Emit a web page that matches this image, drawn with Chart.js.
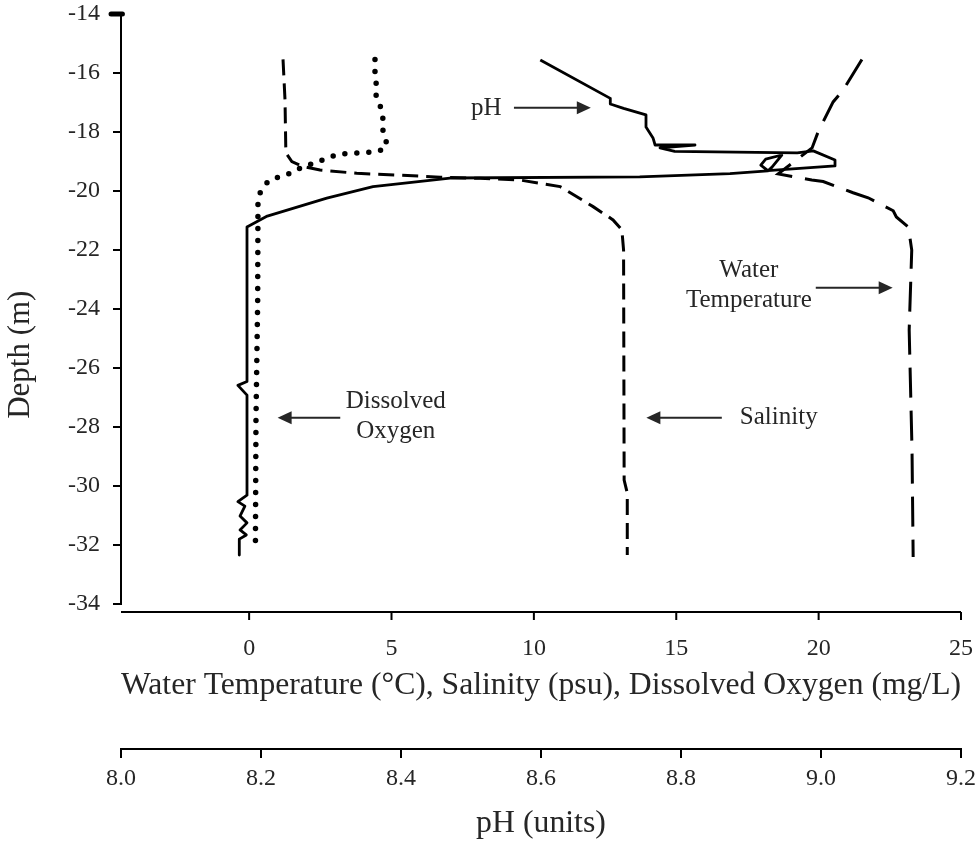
<!DOCTYPE html>
<html>
<head>
<meta charset="utf-8">
<script src="https://cdn.jsdelivr.net/npm/chart.js@4.4.1/dist/chart.umd.min.js"></script>
<style>
  html, body { margin: 0; padding: 0; background: #fff; }
  #wrap { width: 980px; height: 843px; position: relative; }
</style>
</head>
<body>
<div id="wrap"><canvas id="perfil"></canvas></div>
<script>
// profile readings, top to bottom (depth in m)
const oxyDepth = [-15.54, -15.96, -16.34, -16.78, -17.19, -17.56, -18.0, -18.41, -18.58, -18.68, -18.70, -18.72, -18.75, -18.88, -19.04, -19.17, -19.38, -19.51, -19.66, -20.07, -20.44, -23.69, -27.76, -32.24];
const oxyValue = [4.42, 4.42, 4.46, 4.46, 4.63, 4.70, 4.70, 4.84, 4.74, 4.42, 4.0, 3.61, 3.16, 2.74, 2.35, 1.89, 1.51, 1.09, 0.67, 0.38, 0.31, 0.30, 0.24, 0.22];

const salDepth = [-15.54, -16.92, -18.71, -19.0, -19.17, -19.29, -19.40, -19.46, -19.53, -19.57, -19.63, -19.85, -20.53, -20.98, -21.32, -22.0, -29.8, -30.24, -32.34];
const salValue = [1.19, 1.26, 1.29, 1.50, 1.89, 2.49, 3.78, 5.18, 6.71, 8.11, 9.52, 10.92, 12.08, 12.78, 13.09, 13.15, 13.17, 13.28, 13.28];

const tempDepth = [-15.54, -16.58, -16.98, -18.0, -18.54, -19.42, -19.63, -19.68, -20.06, -20.23, -20.67, -20.88, -21.22, -22.0, -24.71, -28.78, -32.41];
const tempValue = [21.52, 20.86, 20.51, 19.98, 19.77, 18.58, 19.76, 20.16, 21.21, 21.74, 22.62, 22.73, 23.15, 23.27, 23.18, 23.28, 23.32];

const phDepth = [-15.56, -16.86, -17.05, -17.20, -17.42, -17.83, -18.20, -18.44, -18.44, -18.54, -18.66, -18.71, -18.64, -18.95, -19.15, -19.31, -19.12, -18.92, -18.78, -19.19, -19.32, -19.41, -19.52, -19.56, -19.85, -20.24, -20.85, -21.22, -26.46, -26.59, -26.92, -30.31, -30.53, -30.68, -31.02, -31.25, -31.49, -31.66, -31.80, -32.34];
const phValue = [8.599, 8.699, 8.699, 8.718, 8.750, 8.750, 8.760, 8.763, 8.820, 8.770, 8.791, 8.966, 8.989, 9.020, 9.020, 8.924, 8.914, 8.921, 8.944, 8.930, 8.924, 8.870, 8.741, 8.470, 8.360, 8.294, 8.209, 8.180, 8.180, 8.167, 8.180, 8.180, 8.167, 8.177, 8.170, 8.180, 8.170, 8.179, 8.169, 8.169];

// short surface mark at the top of the depth axis
const surfDepth = [-14, -14];
const surfValue = [-4.85, -4.45];

const depthTicks = [-34, -32, -30, -28, -26, -24, -22, -20, -18, -16, -14];
const tempTicks = [0, 5, 10, 15, 20, 25];
const phTicks = [8.0, 8.2, 8.4, 8.6, 8.8, 9.0, 9.2];

const fuente = '"Liberation Serif", "Times New Roman", serif';
const tinta = '#262626';

const pares = (xs, ys) => xs.map((v, i) => ({ x: v, y: ys[i] }));

// labels with arrows, placed in data units of the x / y scales
const notas = [
  { text: ['pH'], x: 8.33, y: -17.2, from: 9.3, to: 12.0, ay: -17.18 },
  { text: ['Water', 'Temperature'], x: 17.55, y: -22.68, from: 19.9, to: 22.6, ay: -23.28 },
  { text: ['Salinity'], x: 18.6, y: -27.69, from: 16.6, to: 13.95, ay: -27.69 },
  { text: ['Dissolved', 'Oxygen'], x: 5.15, y: -27.15, from: 3.2, to: 1.0, ay: -27.69 }
];

// drop the extra room chart.js keeps for half labels at the ends of an axis
const sinBordes = s => {
  s.paddingTop = 0;
  s.paddingBottom = 0;
  s.paddingLeft = 0;
  s.paddingRight = 0;
};

const extras = {
  id: 'extras',
  afterDraw(chart) {
    const { ctx, scales: { x, y } } = chart;
    ctx.save();
    // temperature axis sits a few pixels under the plot
    const base = chart.chartArea.bottom + 8;
    ctx.strokeStyle = '#000';
    ctx.lineWidth = 2;
    ctx.beginPath();
    ctx.moveTo(x.left, base);
    ctx.lineTo(x.right, base);
    tempTicks.forEach(v => {
      const px = x.getPixelForValue(v);
      ctx.moveTo(px, base);
      ctx.lineTo(px, base + 8);
    });
    ctx.stroke();

    // depth title, lower than the middle of the axis like the original
    ctx.save();
    ctx.translate(21, y.getPixelForValue(-25.55));
    ctx.rotate(-Math.PI / 2);
    ctx.font = '31px ' + fuente;
    ctx.fillStyle = tinta;
    ctx.textAlign = 'center';
    ctx.textBaseline = 'middle';
    ctx.fillText('Depth (m)', 0, 0);
    ctx.restore();

    ctx.font = '25px ' + fuente;
    ctx.fillStyle = tinta;
    ctx.strokeStyle = tinta;
    ctx.textAlign = 'center';
    ctx.textBaseline = 'middle';
    notas.forEach(n => {
      const cx = x.getPixelForValue(n.x);
      const cy = y.getPixelForValue(n.y);
      n.text.forEach((t, i) => {
        ctx.fillText(t, cx, cy + i * 30);
      });
      const x1 = x.getPixelForValue(n.from);
      const x2 = x.getPixelForValue(n.to);
      const ay = y.getPixelForValue(n.ay);
      const dir = Math.sign(x2 - x1);
      ctx.lineWidth = 2;
      ctx.beginPath();
      ctx.moveTo(x1, ay);
      ctx.lineTo(x2 - dir * 12, ay);
      ctx.stroke();
      ctx.beginPath();
      ctx.moveTo(x2, ay);
      ctx.lineTo(x2 - dir * 14, ay - 6.5);
      ctx.lineTo(x2 - dir * 14, ay + 6.5);
      ctx.closePath();
      ctx.fill();
    });
    ctx.restore();
  }
};

const ctx = document.getElementById('perfil').getContext('2d');
const chart = new Chart(ctx, {
  type: 'scatter',
  data: {
    datasets: [
      {
        label: 'Dissolved Oxygen',
        data: pares(oxyValue, oxyDepth),
        xAxisID: 'x',
        showLine: true,
        borderColor: '#000',
        borderWidth: 5.5,
        borderDash: [0, 12],
        borderCapStyle: 'round',
        pointRadius: 0
      },
      {
        label: 'Salinity',
        data: pares(salValue, salDepth),
        xAxisID: 'x',
        showLine: true,
        borderColor: '#000',
        borderWidth: 3,
        borderDash: [16, 8],
        pointRadius: 0
      },
      {
        label: 'Water Temperature',
        data: pares(tempValue, tempDepth),
        xAxisID: 'x',
        showLine: true,
        borderColor: '#000',
        borderWidth: 3,
        borderDash: [30, 13],
        pointRadius: 0
      },
      {
        label: 'pH',
        data: pares(phValue, phDepth),
        xAxisID: 'ph',
        showLine: true,
        borderColor: '#000',
        borderWidth: 2.8,
        borderJoinStyle: 'round',
        pointRadius: 0
      },
      {
        label: 'surface',
        data: pares(surfValue, surfDepth),
        xAxisID: 'x',
        showLine: true,
        borderColor: '#000',
        borderWidth: 5,
        borderCapStyle: 'round',
        pointRadius: 0,
        clip: false
      }
    ]
  },
  options: {
    responsive: true,
    maintainAspectRatio: false,
    animation: false,
    layout: { padding: { top: 14, right: 19, bottom: 0, left: 0 } },
    plugins: {
      legend: { display: false },
      tooltip: { enabled: false }
    },
    scales: {
      x: {
        type: 'linear',
        position: 'bottom',
        weight: 1,
        min: -4.5,
        max: 25,
        afterBuildTicks: s => { s.ticks = tempTicks.map(v => ({ value: v })); },
        afterFit: s => { s.height = 145; sinBordes(s); },
        grid: { display: false, drawTicks: false },
        border: { display: false },
        ticks: { padding: 30, color: tinta, font: { family: fuente, size: 24 } },
        title: {
          display: true,
          text: 'Water Temperature (°C), Salinity (psu), Dissolved Oxygen (mg/L)',
          color: tinta,
          font: { family: fuente, size: 31.8 },
          padding: { top: 0, bottom: 44 }
        }
      },
      ph: {
        type: 'linear',
        position: 'bottom',
        weight: 2,
        min: 8.0,
        max: 9.2,
        afterBuildTicks: s => { s.ticks = phTicks.map(v => ({ value: v })); },
        afterFit: s => { s.height = 94; sinBordes(s); },
        grid: { drawOnChartArea: false, tickLength: 9, color: '#000', lineWidth: 2 },
        border: { display: true, color: '#000', width: 2 },
        ticks: { padding: 6, color: tinta, font: { family: fuente, size: 24 }, callback: v => v.toFixed(1) },
        title: {
          display: true,
          text: 'pH (units)',
          color: tinta,
          font: { family: fuente, size: 31.8 },
          padding: { top: 0, bottom: 0 }
        }
      },
      y: {
        type: 'linear',
        min: -34,
        max: -14,
        afterBuildTicks: s => { s.ticks = depthTicks.map(v => ({ value: v })); },
        afterFit: s => { s.width = 121; sinBordes(s); },
        grid: { drawOnChartArea: false, tickLength: 8, color: '#000', lineWidth: 2 },
        border: { display: true, color: '#000', width: 2 },
        ticks: { padding: 13, color: tinta, font: { family: fuente, size: 24 } },
        title: { display: false }
      }
    }
  },
  plugins: [extras]
});
</script>
</body>
</html>
